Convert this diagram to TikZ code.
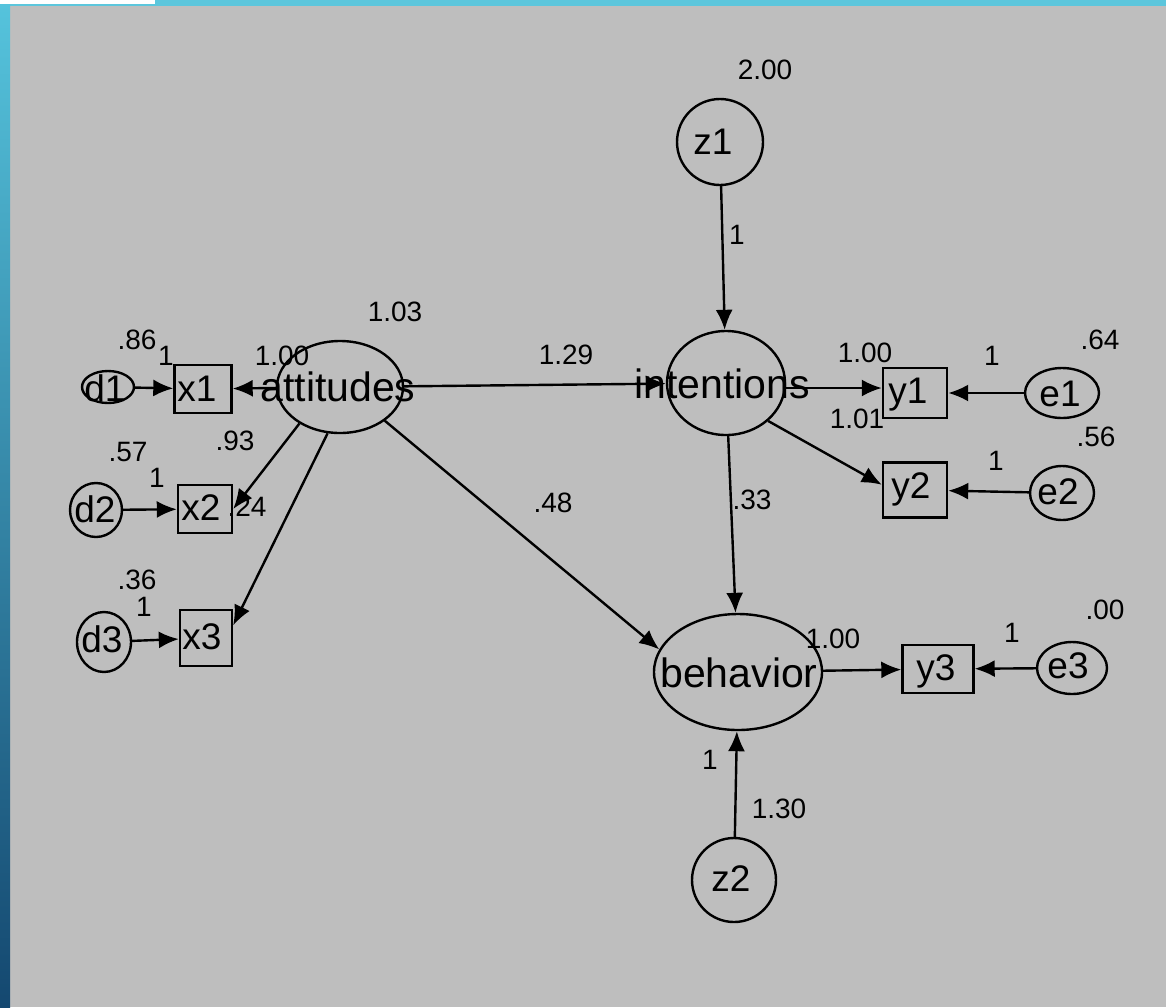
\documentclass[tikz,border=0pt]{standalone}
\usepackage{fontspec}
\setmainfont{Liberation Sans}
\usetikzlibrary{shapes.geometric,arrows.meta}
\definecolor{bggray}{RGB}{190,190,190}
\definecolor{topcyan}{RGB}{92,198,220}
\definecolor{striptop}{RGB}{85,195,220}
\definecolor{stripmid}{RGB}{50,140,178}
\definecolor{stripbot}{RGB}{20,72,112}
\tikzset{
  shp/.style={draw, line width=2.4pt, inner sep=0pt},
  lat/.style={shp, ellipse},
  obs/.style={shp, rectangle},
  lab/.style={inner sep=0pt, font=\fontsize{41}{41}\selectfont},
  lab2/.style={inner sep=0pt, font=\fontsize{37}{37}\selectfont},
  num/.style={inner sep=0pt, font=\fontsize{28}{28}\selectfont},
  conn/.style={line width=2.4pt, -{Latex[length=20pt,width=17pt]}},
}
\begin{document}
\begin{tikzpicture}[x=1pt,y=-1pt]
\useasboundingbox (0,0) rectangle (1166,1007);
% background
\fill[bggray] (0,0) rectangle (1166,1007);
\fill[topcyan] (0,0) rectangle (1166,6);
\fill[white] (0,0) rectangle (155,4);
\shade[top color=striptop, middle color=stripmid, bottom color=stripbot] (0,4) rectangle (10,1007);

% latent variables and errors
\node[lat, minimum width=126, minimum height=92] (att) at (340,387) {};
\node[lat, minimum width=118, minimum height=104] (int) at (726,383) {};
\node[lat, minimum width=168, minimum height=116] (beh) at (738,672) {};
\node[lat, minimum width=86, minimum height=86] (z1) at (720,142) {};
\node[lat, minimum width=84, minimum height=84] (z2) at (734,880) {};
\node[lat, minimum width=52, minimum height=32] (d1) at (108,387) {};
\node[lat, minimum width=52, minimum height=54] (d2) at (96,510) {};
\node[lat, minimum width=54, minimum height=60] (d3) at (104,642) {};
\node[lat, minimum width=74, minimum height=50] (e1) at (1062,393) {};
\node[lat, minimum width=64, minimum height=54] (e2) at (1062,493) {};
\node[lat, minimum width=70, minimum height=52] (e3) at (1072,668) {};

% observed variables
\node[obs, minimum width=57, minimum height=48] (x1) at (203,389) {};
\node[obs, minimum width=54, minimum height=48] (x2) at (205,509) {};
\node[obs, minimum width=52, minimum height=56] (x3) at (206,638) {};
\node[obs, minimum width=64, minimum height=50] (y1) at (915,393) {};
\node[obs, minimum width=64, minimum height=55] (y2) at (915,490) {};
\node[obs, minimum width=71, minimum height=48] (y3) at (938,669) {};

% names
\node[lab] (tatt) at (338,387) {attitudes};
\node[lab] (tint) at (722,384) {intentions};
\node[lab] (tbeh) at (739,673) {behavior};
\node[lab2] (tz1) at (713,142) {z1};
\node[lab2] (tz2) at (731,879) {z2};
\node[lab2] (td1) at (105,388) {d1};
\node[lab2] (td2) at (95,509) {d2};
\node[lab2] (td3) at (102,639) {d3};
\node[lab2] (te1) at (1060,394) {e1};
\node[lab2] (te2) at (1058,492) {e2};
\node[lab2] (te3) at (1068,666) {e3};
\node[lab2] (tx1) at (197,389) {x1};
\node[lab2] (tx2) at (201,508) {x2};
\node[lab2] (tx3) at (202,637) {x3};
\node[lab2] (ty1) at (908,395) {y1};
\node[lab2] (ty2) at (911,489) {y2};
\node[lab2] (ty3) at (936,671) {y3};

% estimates
\node[num] (n1) at (137,340) {.86};
\node[num] (n2) at (166,356) {1};
\node[num] (n3) at (282,356) {1.00};
\node[num] (n4) at (395,312) {1.03};
\node[num] (n5) at (235,441) {.93};
\node[num] (n6) at (128,452) {.57};
\node[num] (n7) at (157,478) {1};
\node[num] (n8) at (247,507) {.24};
\node[num] (n9) at (137,580) {.36};
\node[num] (n10) at (144,607) {1};
\node[num] (n11) at (765,70) {2.00};
\node[num] (n12) at (737,235) {1};
\node[num] (n13) at (566,355) {1.29};
\node[num] (n14) at (865,353) {1.00};
\node[num] (n15) at (857,419) {1.01};
\node[num] (n16) at (1100,340) {.64};
\node[num] (n17) at (992,356) {1};
\node[num] (n18) at (1096,437) {.56};
\node[num] (n19) at (996,461) {1};
\node[num] (n20) at (752,500) {.33};
\node[num] (n21) at (553,503) {.48};
\node[num] (n22) at (833,639) {1.00};
\node[num] (n23) at (1105,610) {.00};
\node[num] (n24) at (1012,633) {1};
\node[num] (n25) at (779,809) {1.30};
\node[num] (n26) at (710,760) {1};

% connectors
\draw[conn] (d1) -- (x1);
\draw[conn] (d2) -- (x2);
\draw[conn] (d3) -- (x3);
\draw[conn] (att) -- (x1);
\draw[conn] (att.222) -- (x2.east);
\draw[conn] (att.255) -- (x3.25);
\draw[conn] (att) -- (int);
\draw[conn] (att.-37) -- (beh.164);
\draw[conn] (z1) -- (int);
\coordinate (iy1) at ([yshift=-5pt]int.east);
\draw[conn] (iy1) -- (iy1 -| y1.west);
\draw[conn] (int.-42) -- (y2.171);
\draw[conn] (e1) -- (y1);
\draw[conn] (e2) -- (y2);
\draw[conn] (e3) -- (y3);
\draw[conn] (int) -- (beh);
\draw[conn] (beh) -- (y3);
\draw[conn] (z2) -- (beh);
\end{tikzpicture}
\end{document}
